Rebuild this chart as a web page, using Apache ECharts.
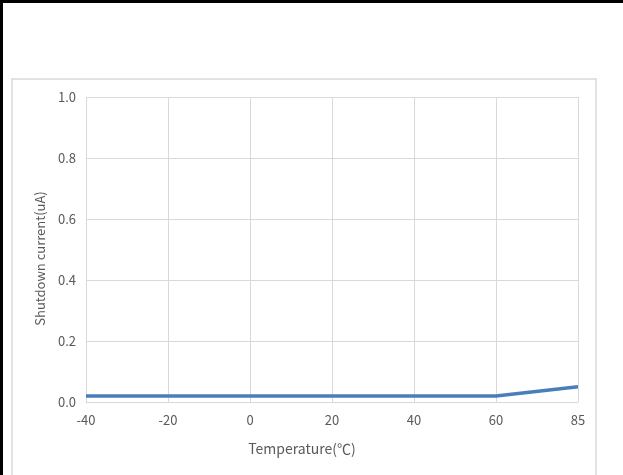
<!DOCTYPE html>
<html>
<head>
<meta charset="utf-8">
<script src="https://cdn.jsdelivr.net/npm/echarts@6/dist/echarts.min.js"></script>
<style>html,body{margin:0;padding:0;background:#fff;}#c{width:623px;height:475px;}</style>
</head>
<body>
<div id="c"></div>
<script>
const categories = ['-40', '-20', '0', '20', '40', '60', '85'];
const shutdownCurrent = [0.02, 0.02, 0.02, 0.02, 0.02, 0.02, 0.05];
const yTicks = [0, 0.2, 0.4, 0.6, 0.8, 1.0];
const xTitle = 'Temperature(℃)';
const yTitle = 'Shutdown current(uA)';

const FONT = "'Noto Sans CJK SC', 'Noto Sans', sans-serif";
const chart = echarts.init(document.getElementById('c'), null, {renderer: 'canvas'});
chart.setOption({
  animation: false,
  backgroundColor: '#fff',
  graphic: [
    {type: 'rect', shape: {x: 12, y: 79, width: 584, height: 420}, style: {fill: 'none', stroke: '#d9d9d9', lineWidth: 1.5}, z: 0},
    {type: 'rect', shape: {x: 0, y: 0, width: 623, height: 3}, style: {fill: '#000'}, z: 10},
    {type: 'rect', shape: {x: 0, y: 0, width: 3, height: 475}, style: {fill: '#000'}, z: 10}
  ],
  title: {
    text: xTitle,
    left: 302, top: 442,
    textAlign: 'center',
    textStyle: {fontFamily: FONT, fontSize: 14, fontWeight: 'normal', color: '#595959'},
    padding: 0
  },
  grid: {left: 86, right: 45, top: 97, bottom: 73, containLabel: false},
  xAxis: {
    type: 'category',
    data: categories,
    boundaryGap: false,
    axisLine: {show: true, lineStyle: {color: '#d9d9d9', width: 1}},
    axisTick: {show: false},
    axisLabel: {fontFamily: FONT, fontSize: 13, color: '#595959', margin: 12},
    splitLine: {show: true, lineStyle: {color: '#d9d9d9', width: 1}}
  },
  yAxis: {
    type: 'value',
    min: 0, max: 1, interval: 0.2,
    name: yTitle,
    nameLocation: 'middle',
    nameGap: 34,
    nameRotate: 90,
    nameTextStyle: {fontFamily: FONT, fontSize: 13, color: '#595959', padding: [0, 0, 0, -18]},
    axisLine: {show: false},
    axisTick: {show: false},
    axisLabel: {fontFamily: FONT, fontSize: 13, color: '#595959', margin: 10,
      formatter: v => yTicks.indexOf(Math.round(v * 10) / 10) >= 0 ? v.toFixed(1) : ''},
    splitLine: {show: true, lineStyle: {color: '#d9d9d9', width: 1}}
  },
  series: [{
    type: 'line',
    data: shutdownCurrent,
    symbol: 'none',
    lineStyle: {color: '#4a7ebb', width: 3.5},
    z: 5
  }]
});
</script>
</body>
</html>
